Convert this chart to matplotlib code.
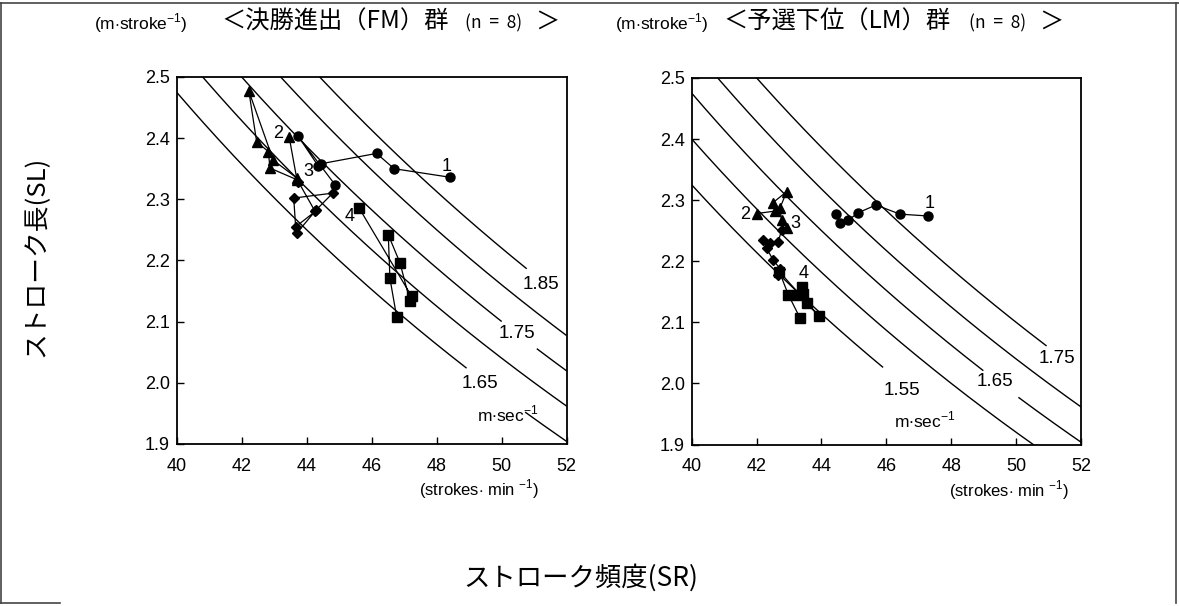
import numpy as np
import matplotlib
matplotlib.use("Agg")
import matplotlib.pyplot as plt
from matplotlib.lines import Line2D

W, H = 1179, 606

# ---------------- data ----------------
# iso-velocity levels (m/sec)
fm_speeds = [1.65, 1.70, 1.75, 1.80, 1.85]
lm_speeds = [1.55, 1.60, 1.65, 1.70, 1.75]

# FM group (finalists)
fm1_sr = [48.41, 46.69, 46.15, 44.43, 44.36, 43.74, 44.87]
fm1_sl = [2.336, 2.350, 2.375, 2.358, 2.354, 2.403, 2.324]
fm2_sr = [43.46, 43.69, 42.97, 42.22, 42.46, 42.82, 42.87, 43.70]
fm2_sl = [2.402, 2.335, 2.364, 2.477, 2.394, 2.378, 2.351, 2.332]
fm3_sr = [43.74, 44.26, 43.66, 43.60, 44.80, 44.30, 43.70]
fm3_sl = [2.329, 2.280, 2.255, 2.302, 2.310, 2.283, 2.245]
fm4_sr = [45.62, 47.23, 47.18, 46.87, 46.51, 46.56, 46.77]
fm4_sl = [2.285, 2.141, 2.133, 2.196, 2.242, 2.171, 2.107]

# LM group (lower in heats)
lm1_sr = [47.29, 46.42, 45.68, 45.12, 44.83, 44.57, 44.44]
lm1_sl = [2.274, 2.277, 2.292, 2.279, 2.267, 2.262, 2.277]
lm2_sr = [42.00, 42.57, 42.51, 42.93, 42.72, 42.77, 42.93]
lm2_sl = [2.278, 2.282, 2.296, 2.314, 2.287, 2.267, 2.255]
lm3_sr = [42.77, 42.67, 42.41, 42.21, 42.31, 42.51, 42.72, 42.67]
lm3_sl = [2.251, 2.232, 2.229, 2.235, 2.221, 2.202, 2.188, 2.177]
lm4_sr = [43.39, 43.44, 43.29, 43.54, 43.93, 42.70, 42.98, 43.34]
lm4_sl = [2.158, 2.147, 2.145, 2.131, 2.110, 2.183, 2.145, 2.107]

x_ticks = [40, 42, 44, 46, 48, 50, 52]
y_ticks = [1.9, 2.0, 2.1, 2.2, 2.3, 2.4, 2.5]
y_tick_labels = ["1.9", "2.0", "2.1", "2.2", "2.3", "2.4", "2.5"]

# ---------------- styling ----------------
NUM = ["Liberation Sans", "DejaVu Sans"]
JP = ["Noto Sans CJK JP", "DejaVu Sans"]
plt.rcParams["font.family"] = NUM
plt.rcParams["mathtext.fontset"] = "custom"
plt.rcParams["mathtext.rm"] = "Liberation Sans"

fig = plt.figure(figsize=(W / 100, H / 100), dpi=100)
fig.patch.set_facecolor("white")

def fx(px):
    return px / W

def fy(py):
    return 1 - py / H

ax_l = fig.add_axes([fx(176.7), fy(443.8), fx(566.7) - fx(176.7), fy(77) - fy(443.8)])
ax_r = fig.add_axes([fx(691.7), fy(444.5), fx(1081) - fx(691.7), fy(77.9) - fy(444.5)])

def iso(ax, v, segs):
    for a, b in segs:
        sr = np.linspace(a, b, 300)
        ax.plot(sr, 60 * v / sr, color="k", lw=1.0, zorder=1, solid_capstyle="butt")

# curve segments (gaps where labels sit)
fm_segs = {1.65: [(40, 48.92), (50.72, 52)], 1.70: [(40, 52)], 1.75: [(40, 50.0), (51.08, 52)],
           1.80: [(40, 52)], 1.85: [(40, 50.77)]}
lm_segs = {1.55: [(40, 45.9)], 1.60: [(40, 52)], 1.65: [(40, 48.99), (50.07, 52)],
           1.70: [(40, 52)], 1.75: [(40, 50.94)]}

for v in fm_speeds:
    iso(ax_l, v, fm_segs[v])
for v in lm_speeds:
    iso(ax_r, v, lm_segs[v])

mk = dict(color="k", lw=0.9, markeredgecolor="k", markerfacecolor="k", zorder=3)
def draw_series(ax, s1, s2, s3, s4):
    ax.plot(*s1, marker="o", markersize=6.5, **mk)
    ax.plot(*s2, marker="^", markersize=7.5, **mk)
    ax.plot(*s3, marker="D", markersize=5.5, **mk)
    ax.plot(*s4, marker="s", markersize=6.5, **mk)

draw_series(ax_l, (fm1_sr, fm1_sl), (fm2_sr, fm2_sl), (fm3_sr, fm3_sl), (fm4_sr, fm4_sl))
draw_series(ax_r, (lm1_sr, lm1_sl), (lm2_sr, lm2_sl), (lm3_sr, lm3_sl), (lm4_sr, lm4_sl))

for ax in (ax_l, ax_r):
    ax.set_xlim(40, 52)
    ax.set_ylim(1.9, 2.5)
    ax.set_xticks(x_ticks)
    ax.set_yticks(y_ticks)
    ax.set_yticklabels(y_tick_labels)
    ax.tick_params(direction="in", length=5, width=1.0, labelsize=13,
                   top=False, right=False)
    ax.tick_params(axis="x", pad=10)
    ax.tick_params(axis="y", pad=5)
    for s in ax.spines.values():
        s.set_linewidth(1.3)
    ax.set_facecolor("white")

# series labels
lab = dict(fontsize=13, ha="center", va="center", zorder=4)
ax_l.text(48.31, 2.354, "1", **lab)
ax_l.text(43.11, 2.408, "2", **lab)
ax_l.text(44.05, 2.345, "3", **lab)
ax_l.text(45.33, 2.272, "4", **lab)
ax_r.text(47.34, 2.295, "1", **lab)
ax_r.text(41.64, 2.276, "2", **lab)
ax_r.text(43.21, 2.261, "3", **lab)
ax_r.text(43.44, 2.180, "4", **lab)

# velocity labels
vl = dict(fontsize=13.5, ha="center", va="center", zorder=4)
ax_l.text(51.21, 2.160, "1.85", **vl)
ax_l.text(50.47, 2.080, "1.75", **vl)
ax_l.text(49.33, 1.998, "1.65", **vl)
ax_l.text(50.19, 1.949, r"m$\bullet$sec$^{-1}$", fontsize=12.5, ha="center", va="center")
ax_r.text(51.25, 2.041, "1.75", **vl)
ax_r.text(49.35, 2.003, "1.65", **vl)
ax_r.text(46.47, 1.989, "1.55", **vl)
ax_r.text(47.19, 1.940, r"m$\bullet$sec$^{-1}$", fontsize=12.5, ha="center", va="center")

# units
fig.text(fx(141), fy(23), r"(m$\cdot$stroke$^{-1}$)", fontsize=12.5, ha="center", va="center")
fig.text(fx(662), fy(23), r"(m$\cdot$stroke$^{-1}$)", fontsize=12.5, ha="center", va="center")
fig.text(fx(479), fy(489), r"(strokes$\cdot$ min $^{-1}$)", fontsize=12, ha="center", va="center")
fig.text(fx(1009), fy(490), r"(strokes$\cdot$ min $^{-1}$)", fontsize=12, ha="center", va="center")

# titles
fig.text(fx(221), fy(22), "＜決勝進出（FM）群", family=JP, fontsize=17.5, ha="left", va="center")
fig.text(fx(494), fy(23), "(n  =  8)", family=JP, fontsize=12.5, ha="center", va="center")
fig.text(fx(559), fy(22), "＞", family=JP, fontsize=17.5, ha="right", va="center")

fig.text(fx(723), fy(22), "＜予選下位（LM）群", family=JP, fontsize=17.5, ha="left", va="center")
fig.text(fx(998), fy(23), "(n  =  8)", family=JP, fontsize=12.5, ha="center", va="center")
fig.text(fx(1063), fy(22), "＞", family=JP, fontsize=17.5, ha="right", va="center")

# axis titles
fig.text(fx(37), fy(256), "ストローク長(SL)", family=JP, fontsize=18.5, rotation=90,
         ha="center", va="center")
fig.text(fx(581), fy(578), "ストローク頻度(SR)", family=JP, fontsize=19, ha="center", va="center")

# outer frame of the figure
for xs, ys in [((0, W), (2.5, 2.5)), ((W - 3, W - 3), (2.5, 603)), ((1, 1), (2.5, 603)),
               ((0, 60), (603, 603))]:
    fig.add_artist(Line2D([fx(x) for x in xs], [fy(y) for y in ys], color="#444444", lw=1.2))

fig.savefig("out.png", dpi=100, facecolor="white")
